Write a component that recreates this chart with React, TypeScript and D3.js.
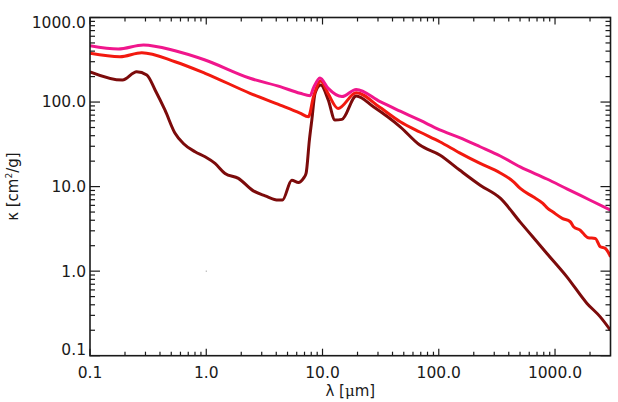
import React from "react";
import * as d3 from "d3";

const W = 618;
const H = 402;
const plot = { x0: 90, x1: 610.5, y0: 355.7, y1: 17.5 };

// wavelength [um] and mass opacity [cm^2/g] for the three dust models
const lamPink = [0.1, 0.175, 0.288, 0.539, 0.977, 2.38, 4.32, 6.42, 7.83, 8.36, 9.5, 11.2, 14.7, 19.5, 31.3, 46.6, 68.7, 102, 151, 227, 338, 502, 851, 1265, 2009, 3000];
const kapPink = [464, 424, 473, 404, 314, 191, 152, 127, 119, 147, 193, 145, 116, 141, 101, 78, 61, 47, 38, 29.6, 23, 17.1, 12.3, 9.4, 6.9, 5.27];

const lamRed = [0.1, 0.181, 0.279, 0.539, 0.977, 2.38, 4.32, 6.4, 7.56, 8.36, 9.66, 11.2, 13.6, 19.5, 31.3, 46.6, 68.7, 102, 151, 227, 338, 440, 502, 648, 786, 865, 953, 1153, 1352, 1443, 1648, 1926, 2221, 2449, 2706, 3000];
const kapRed = [377, 344, 383, 300, 219, 127, 92, 74, 67, 116, 178, 125, 84, 129, 86, 58.5, 44.2, 33.9, 25.1, 18.8, 14.5, 11.4, 9.5, 7.57, 6.33, 5.52, 5.03, 4.21, 3.84, 3.35, 3.05, 2.48, 2.44, 1.94, 1.86, 1.48];

const lamDark = [0.1, 0.19, 0.252, 0.308, 0.363, 0.442, 0.539, 0.635, 0.801, 0.977, 1.19, 1.45, 1.89, 2.54, 3.21, 4.17, 4.52, 5.44, 6.21, 6.85, 7.22, 7.71, 8.09, 8.63, 9.66, 11.2, 12.8, 14.7, 19.5, 27.4, 46.6, 68.7, 102, 151, 227, 338, 502, 648, 851, 1265, 1884, 2449, 3000];
const kapDark = [228, 182, 228, 209, 139, 80, 42.7, 32.4, 25.8, 22.5, 18.8, 14.3, 12.5, 8.9, 7.78, 6.92, 6.92, 11.9, 11.2, 12.5, 14.3, 35.5, 61.2, 127, 159, 106, 61.2, 62.4, 118, 88, 51, 31, 23.7, 15.7, 10.4, 7.3, 3.8, 2.52, 1.62, 0.857, 0.415, 0.288, 0.2];

const xMajor = [0.1, 1, 10, 100, 1000];
const yMajor = [0.1, 1, 10, 100, 1000];

const series = [
  { lam: lamDark, kap: kapDark, color: "#7c0b0b" },
  { lam: lamRed, kap: kapRed, color: "#f2190f" },
  { lam: lamPink, kap: kapPink, color: "#f0168c" },
];

function minorTicks(lo: number, hi: number) {
  const out: number[] = [];
  for (let e = Math.floor(Math.log10(lo)); e <= Math.ceil(Math.log10(hi)); e++) {
    for (let k = 2; k <= 9; k++) {
      const v = k * Math.pow(10, e);
      if (v > lo && v < hi) out.push(v);
    }
  }
  return out;
}

export default function App() {
  const x = d3.scaleLog().domain([0.1, 3000]).range([plot.x0, plot.x1]);
  const y = d3.scaleLog().domain([0.1, 1000]).range([plot.y0, plot.y1]);
  const fmt = d3.format(".1f");

  const line = d3
    .line<[number, number]>()
    .x((d) => x(d[0]))
    .y((d) => y(d[1]))
    .curve(d3.curveMonotoneX);

  const xMinor = minorTicks(0.1, 3000);
  const yMinor = minorTicks(0.1, 1000);
  const ink = "#1a1a1a";
  const font = "'DejaVu Sans', sans-serif";

  return (
    <svg
      width={W}
      height={H}
      viewBox={`0 0 ${W} ${H}`}
      style={{ position: "absolute", left: 0, top: 0, background: "#fff" }}
    >
      <defs>
        <clipPath id="plot-area">
          <rect x={plot.x0} y={plot.y1} width={plot.x1 - plot.x0} height={plot.y0 - plot.y1} />
        </clipPath>
      </defs>

      <g clipPath="url(#plot-area)" fill="none" strokeWidth={3} strokeLinejoin="round">
        {series.map((s, i) => (
          <path
            key={i}
            d={line(s.lam.map((l, j) => [l, s.kap[j]] as [number, number])) ?? ""}
            stroke={s.color}
          />
        ))}
      </g>
      <rect x={x(1) - 0.5} y={y(1) - 0.5} width={1} height={1} fill="#888" />

      <g stroke={ink} strokeWidth={1.2}>
        {xMajor.map((v) => (
          <g key={`xm${v}`}>
            <line x1={x(v)} x2={x(v)} y1={plot.y0} y2={plot.y0 - 7} />
            <line x1={x(v)} x2={x(v)} y1={plot.y1} y2={plot.y1 + 7} />
          </g>
        ))}
        {xMinor.map((v) => (
          <g key={`xn${v}`}>
            <line x1={x(v)} x2={x(v)} y1={plot.y0} y2={plot.y0 - 4} />
            <line x1={x(v)} x2={x(v)} y1={plot.y1} y2={plot.y1 + 4} />
          </g>
        ))}
        {yMajor.map((v) => (
          <g key={`ym${v}`}>
            <line x1={plot.x0} x2={plot.x0 + 10} y1={y(v)} y2={y(v)} />
            <line x1={plot.x1} x2={plot.x1 - 10} y1={y(v)} y2={y(v)} />
          </g>
        ))}
        {yMinor.map((v) => (
          <g key={`yn${v}`}>
            <line x1={plot.x0} x2={plot.x0 + 5} y1={y(v)} y2={y(v)} />
            <line x1={plot.x1} x2={plot.x1 - 5} y1={y(v)} y2={y(v)} />
          </g>
        ))}
        <rect
          x={plot.x0}
          y={plot.y1}
          width={plot.x1 - plot.x0}
          height={plot.y0 - plot.y1}
          fill="none"
          strokeWidth={1.6}
        />
      </g>

      <g fontFamily={font} fontSize={15.5} fill={ink}>
        {xMajor.map((v) => (
          <text key={`xl${v}`} x={x(v)} y={378} textAnchor="middle">
            {fmt(v)}
          </text>
        ))}
        {yMajor.map((v, i) => {
          // end labels are nudged inside the frame
          const shift = i === 0 ? -6 : i === yMajor.length - 1 ? 5 : 0;
          return (
            <text key={`yl${v}`} x={86} y={y(v) + shift} dy="0.35em" textAnchor="end">
              {fmt(v)}
            </text>
          );
        })}
        <text x={(plot.x0 + plot.x1) / 2} y={396} textAnchor="middle" fontSize={15}>
          λ [<tspan fontFamily="'DejaVu Serif', serif">μ</tspan>m]
        </text>
        <text
          transform={`translate(18, ${(plot.y0 + plot.y1) / 2}) rotate(-90)`}
          textAnchor="middle"
          fontSize={15}
        >
          κ [cm<tspan fontSize={9} dy={-6}>2</tspan>
          <tspan dy={6}>/g]</tspan>
        </text>
      </g>
    </svg>
  );
}
